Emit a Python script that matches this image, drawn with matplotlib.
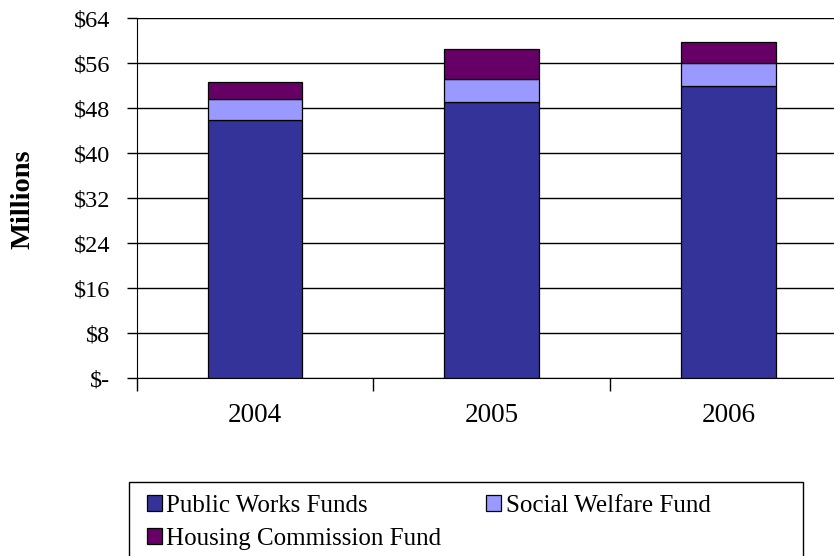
import matplotlib
matplotlib.use('Agg')
import matplotlib.pyplot as plt
from matplotlib.patches import Rectangle
from matplotlib.ticker import FixedLocator

# data (millions of dollars)
years = ['2004', '2005', '2006']
public_works = [46.0, 49.1, 52.0]
social_welfare = [3.6, 4.1, 4.1]
housing = [3.0, 5.3, 3.6]
y_ticks = [0, 8, 16, 24, 32, 40, 48, 56, 64]
y_labels = ['$-', '$8', '$16', '$24', '$32', '$40', '$48', '$56', '$64']

plt.rcParams['font.family'] = ['Liberation Serif', 'DejaVu Serif']

fig = plt.figure(figsize=(8.34, 5.56), dpi=100)
W, H = 834, 556
# plot area runs past the right edge of the picture, like the original
ax = fig.add_axes([136.7 / W, (H - 378.3) / H, (847 - 136.7) / W, 360.0 / H])

x = [i + 0.5 for i in range(len(years))]
bottom2 = [a + b for a, b in zip(public_works, social_welfare)]
b1 = ax.bar(x, public_works, width=0.4, color='#333399', edgecolor='black', linewidth=0.9, zorder=3)
b2 = ax.bar(x, social_welfare, width=0.4, bottom=public_works, color='#9999FF',
            edgecolor='black', linewidth=0.9, zorder=3)
b3 = ax.bar(x, housing, width=0.4, bottom=bottom2, color='#660066',
            edgecolor='black', linewidth=0.9, zorder=3)

ax.set_xlim(0, 3)
ax.set_ylim(0, 64)
ax.set_yticks(y_ticks)
ax.set_yticklabels(y_labels, fontsize=17.5)
ax.set_xticks(x)
ax.set_xticklabels(years, fontsize=19.5)
ax.xaxis.set_minor_locator(FixedLocator([0, 1, 2, 3]))
ax.tick_params(axis='x', which='major', length=0, pad=18)
ax.tick_params(axis='x', which='minor', length=9, width=1, color='black', direction='out')
ax.tick_params(axis='y', length=7, width=1, color='black', pad=12)

ax.grid(axis='y', color='black', linewidth=1, zorder=0)
ax.set_axisbelow(True)
for side in ['top', 'right']:
    ax.spines[side].set_visible(False)
ax.spines['left'].set_color('black')
ax.spines['bottom'].set_color('black')

fig.text(23 / W, 1 - 199 / H, 'Millions', rotation=90, fontsize=20.5, fontweight='bold',
         ha='center', va='center')

# legend box, cut off by the bottom edge as in the original
fig.patches.append(Rectangle((129.3 / W, -0.05), (802.7 - 129.3) / W, 0.05 + (H - 481.7) / H,
                             transform=fig.transFigure, fill=False, edgecolor='black',
                             linewidth=1, clip_on=False))
leg = fig.legend([b1, b3, b2], ['Public Works Funds', 'Housing Commission Fund', 'Social Welfare Fund'],
                 ncol=2, loc='upper left', bbox_to_anchor=(129 / W, 1 - 477 / H),
                 frameon=False, fontsize=18, handlelength=0.6, handleheight=0.6,
                 handletextpad=0.2, columnspacing=1.76, labelspacing=0.46, borderpad=0.2)

fig.savefig('out.png', dpi=100)
